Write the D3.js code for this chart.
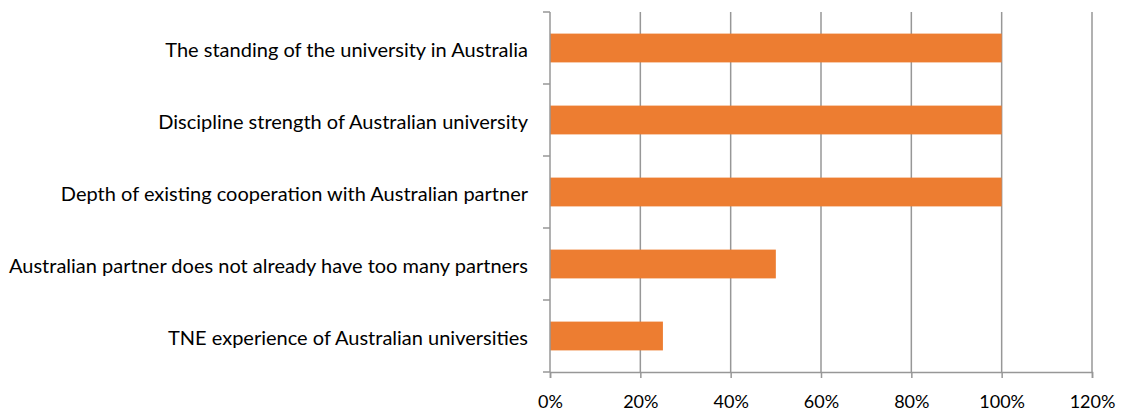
<!DOCTYPE html>
<html>
<head>
<meta charset="utf-8">
<script src="https://cdn.jsdelivr.net/npm/d3@7"></script>
<style>
  html, body { margin: 0; padding: 0; background: #fff; }
  svg { display: block; }
  text { font-family: Lato, "Open Sans", sans-serif; fill: #000; }
</style>
</head>
<body>
<svg id="chart" width="1122" height="414"></svg>
<script>
// Survey factors and the share of respondents rating each as important
const categories = [
  "The standing of the university in Australia",
  "Discipline strength of Australian university",
  "Depth of existing cooperation with Australian partner",
  "Australian partner does not already have too many partners",
  "TNE experience of Australian universities"
];
const values = [100, 100, 100, 50, 25];
const tickValues = [0, 20, 40, 60, 80, 100, 120];

const svg = d3.select("#chart");
const margin = { top: 12, right: 30, bottom: 42, left: 550 };
const width = 1092 - margin.left;
const height = 372 - margin.top;

const g = svg.append("g").attr("transform", `translate(${margin.left},${margin.top})`);

const x = d3.scaleLinear().domain([0, 120]).range([0, width]);
const y = d3.scaleBand().domain(categories).range([0, height]).paddingInner(0.6).paddingOuter(0.3);

// vertical gridlines
g.selectAll("line.grid")
  .data(tickValues.slice(1))
  .join("line")
  .attr("class", "grid")
  .attr("x1", d => x(d)).attr("x2", d => x(d))
  .attr("y1", 0).attr("y2", height)
  .attr("stroke", "#979797").attr("stroke-width", 1.5);

// bars
g.selectAll("rect.bar")
  .data(values)
  .join("rect")
  .attr("class", "bar")
  .attr("x", 0)
  .attr("y", (d, i) => y(categories[i]))
  .attr("width", d => x(d))
  .attr("height", y.bandwidth())
  .attr("fill", "#ED7D31");

// x axis
const xAxis = g.append("g")
  .attr("transform", `translate(0,${height})`)
  .call(d3.axisBottom(x).tickValues(tickValues).tickFormat(d => d + "%").tickSize(6).tickPadding(17));
xAxis.select(".domain").attr("stroke", "#979797").attr("stroke-width", 1.5);
xAxis.selectAll(".tick line").attr("stroke", "#979797").attr("stroke-width", 1.5);
xAxis.selectAll(".tick text").attr("font-size", 18).attr("font-family", "Lato, sans-serif").attr("fill", "#000");

// y axis: tick marks sit at the band boundaries, labels at band centres
const yAxisG = g.append("g");
yAxisG.append("line")
  .attr("x1", 0).attr("x2", 0).attr("y1", 0).attr("y2", height)
  .attr("stroke", "#979797").attr("stroke-width", 1.5);
const step = y.step();
const boundaries = d3.range(categories.length + 1).map(i => i * step);
yAxisG.selectAll("line.ytick")
  .data(boundaries)
  .join("line")
  .attr("class", "ytick")
  .attr("x1", -7).attr("x2", 0)
  .attr("y1", d => d).attr("y2", d => d)
  .attr("stroke", "#979797").attr("stroke-width", 1.5);

yAxisG.selectAll("text.ylabel")
  .data(categories)
  .join("text")
  .attr("class", "ylabel")
  .attr("x", -22)
  .attr("y", d => y(d) + y.bandwidth() / 2)
  .attr("dy", "0.45em")
  .attr("text-anchor", "end")
  .attr("font-size", 20)
  .text(d => d);
</script>
</body>
</html>
